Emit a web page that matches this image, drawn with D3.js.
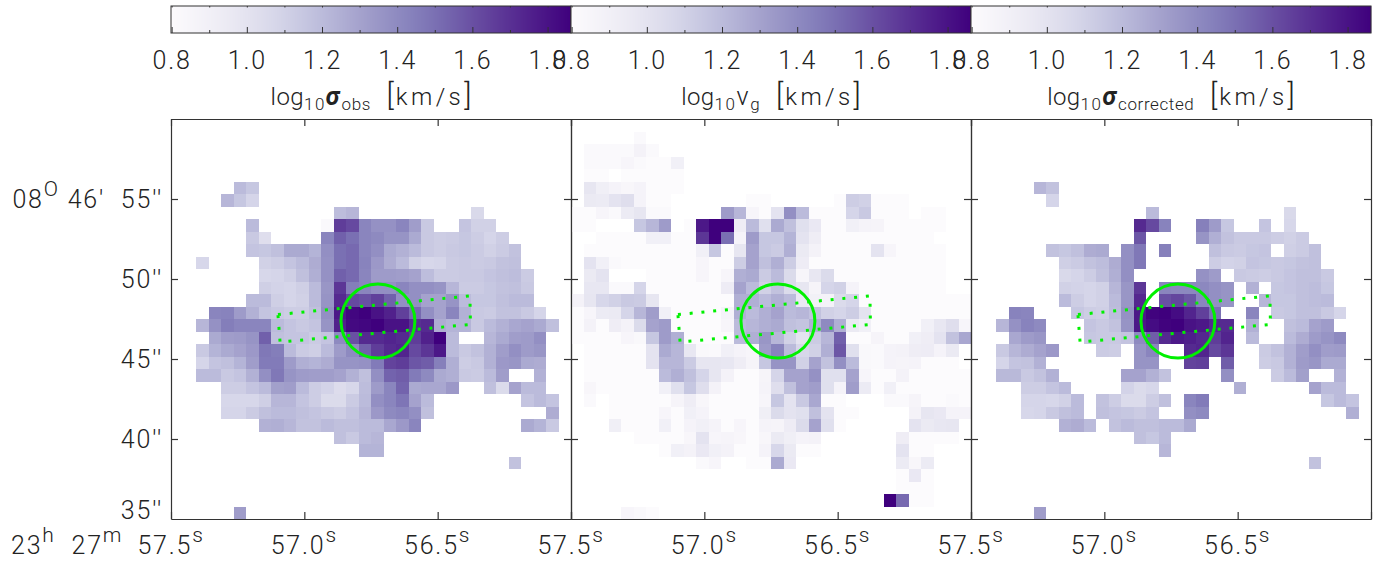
<!DOCTYPE html>
<html>
<head>
<meta charset="utf-8">
<script src="https://cdn.jsdelivr.net/npm/d3@7"></script>
<style>
html, body { margin: 0; padding: 0; background: #fff; overflow: hidden; }
text { font-family: Roboto, "Open Sans", sans-serif; font-weight: 300; fill: #222; }
</style>
</head>
<body>
<div id="drawPath"></div>
<script>
const _ = null;

// log10 sigma_obs, one row per declination step, top row first
const obsGrid = [
  [], [], [], [], [],
  [_,_,_,_,_,1.2,1.15],
  [_,_,_,_,1.22,1.15,1.08],
  [_,_,_,_,_,_,_,_,_,_,_,_,_,1.19,1.22,_,_,_,_,_,_,_,_,_,1.06],
  [_,_,_,_,_,_,1.2,_,_,_,_,_,.82,1.66,1.62,1.42,1.37,1.37,1.42,1.32,1.14,_,_,1.16,1.1,1.1],
  [_,_,_,_,_,_,1.14,1.03,_,_,_,_,1.42,1.55,1.5,1.42,1.4,1.36,1.36,1.27,1.14,1.12,1.13,1.15,1.12,1.08,1.12],
  [_,_,_,_,_,_,1.16,1.15,1.18,1.27,1.27,1.23,1.38,1.5,1.52,1.42,1.38,1.27,1.24,1.2,1.14,1.12,1.14,1.15,1.13,1.1,1.13,1.17],
  [_,_,1.07,_,_,_,_,1.1,1.12,1.16,1.2,1.26,1.37,1.5,1.52,1.43,1.34,1.26,1.2,1.1,1.07,1.08,1.13,1.14,1.13,1.14,1.17,1.18],
  [_,_,_,_,_,_,_,1.07,1.08,1.11,1.18,1.25,1.37,1.55,1.52,1.42,1.33,1.33,1.32,1.3,1.19,1.13,1.13,1.14,1.14,1.16,1.18,1.19,1.13],
  [_,_,_,_,_,_,_,1.11,1.09,1.08,1.11,1.2,1.35,1.68,1.45,1.42,1.38,1.38,1.42,1.38,1.38,1.36,1.22,1.13,1.13,1.15,1.17,1.18,1.14],
  [_,_,_,_,_,_,1.2,1.2,1.11,1.08,1.1,1.2,1.36,1.72,1.62,1.6,1.65,1.55,1.38,1.38,1.3,1.3,1.36,1.2,1.15,1.15,1.18,1.2,1.2],
  [_,_,_,1.42,1.43,1.33,1.24,1.16,1.14,1.12,1.12,1.18,1.38,1.78,1.84,1.86,1.8,1.75,1.65,1.52,1.38,1.3,1.42,1.24,1.14,1.13,1.17,1.17,1.14,1.08],
  [_,_,1.22,1.37,1.45,1.42,1.42,1.42,1.2,1.16,1.14,1.16,1.36,1.75,1.83,1.84,1.86,1.8,1.8,1.7,1.72,1.26,1.23,1.23,1.14,1.2,1.24,1.28,1.3,1.27,1.18],
  [_,_,_,1.27,1.32,1.33,1.36,1.55,1.18,1.16,1.16,1.13,1.16,1.4,1.6,1.72,1.72,1.74,1.72,1.66,1.75,1.86,1.2,_,_,1.22,1.27,1.32,1.33,1.38],
  [_,_,1.14,1.23,1.27,1.3,1.34,1.47,1.45,1.2,1.13,1.11,1.2,1.33,1.4,1.55,1.66,1.72,1.74,1.62,1.68,1.78,1.2,1.14,1.17,1.24,1.32,1.38,1.33,1.35],
  [_,_,1.08,1.16,1.18,1.23,1.32,1.46,1.46,1.33,1.25,1.23,1.26,1.36,1.36,1.37,1.46,1.64,1.66,1.58,1.56,1.44,1.25,1.12,1.14,1.24,1.34,1.35,1.27,1.26],
  [_,_,1.2,1.2,1.14,1.16,1.24,1.38,1.47,1.36,1.33,1.32,1.32,1.3,1.24,1.18,1.38,1.54,1.56,1.46,1.4,1.27,1.25,1.14,1.13,1.2,1.32,_,_,1.24],
  [_,_,_,_,1.12,1.12,1.16,1.2,1.31,1.32,1.2,1.12,1.09,1.04,1.07,1.19,1.33,1.42,1.54,1.27,1.28,1.28,1.34,_,_,1.18,1.05,1.3,1.2,1.2],
  [_,_,_,_,1.07,1.07,1.07,1.11,1.22,1.22,1.16,1.12,1.05,1.05,1.13,1.2,1.38,1.42,1.48,1.3,1.2,_,_,_,_,_,_,_,1.16,1.2,1.16],
  [_,_,_,_,1.08,1.08,1.13,1.18,1.2,1.2,1.18,1.16,1.14,1.12,1.16,1.22,1.34,1.4,1.42,1.38,1.18,_,_,_,_,_,_,_,_,_,1.26],
  [_,_,_,_,_,_,_,1.24,1.25,1.22,1.17,1.17,1.2,1.18,1.18,1.2,1.2,1.28,1.34,1.42,_,_,_,_,_,_,_,_,1.27,1.23,1.14],
  [_,_,_,_,_,_,_,_,_,_,_,_,_,1.18,1.14,1.2,1.22],
  [_,_,_,_,_,_,_,_,_,_,_,_,_,_,_,1.23,1.23],
  [_,_,_,_,_,_,_,_,_,_,_,_,_,_,_,_,_,_,_,_,_,_,_,_,_,_,_,1.17],
  [], [], [],
  [_,_,_,_,_,1.32]
];

// log10 v_g
const vgGrid = [
  [],
  [_,_,_,_,_,.82],
  [_,.82,.82,.82,.82,.88,.82],
  [_,.82,.82,.82,.85,.82,.8,.8,.9],
  [_,.8,.8,_,.8,.8,.8,.8,.8],
  [_,.98,.91,.87,.84,.87,.8,.8,.8],
  [_,.95,.94,1.0,1.03,.87,.8,.8,_,_,_,_,_,_,.8,.8,_,_,_,_,_,.8,1.12,1.1,.8,.8,.8],
  [.8,.8,.85,.82,.94,.98,.82,.82,_,_,_,_,1.33,1.22,.85,.8,1.0,1.38,1.2,.8,.8,.8,1.08,1.14,.8,.8,.8,_,.8,.8],
  [.8,.8,_,_,_,1.15,1.22,1.33,_,.8,1.78,1.86,1.86,.92,1.2,1.02,1.27,1.18,1.02,.96,.8,.8,.9,.87,.86,.8,.8,.8,.8,.8],
  [_,_,.8,.8,.8,.8,.9,.9,.8,.8,1.68,1.86,1.5,.87,1.33,1.15,1.15,1.23,1.0,.92,.8,.8,.8,.8,.8,.8,.8,.8,.8],
  [_,.8,.8,.8,.8,.8,.8,.8,.8,.8,.9,1.15,.8,.98,1.3,1.15,1.13,1.25,.95,.88,.8,.8,.8,.8,1.0,.85,.8,.8,.8,.8],
  [_,1.0,.9,.82,.8,.8,.8,.8,.8,.8,.85,.8,.8,1.12,1.3,1.18,1.25,1.12,.93,.8,.8,.8,.8,.8,.8,.8,.8,.8,.8,.8],
  [_,.95,1.0,_,_,_,.8,.8,.8,.8,.85,.8,.85,1.25,1.27,1.13,1.2,1.05,.85,.97,1.05,.8,.8,.8,.8,.8,.8,.8,.8,.8],
  [_,.97,.97,.82,.82,1.08,.8,.8,.8,.8,.8,.8,.93,1.3,1.2,1.1,1.17,1.05,.98,.86,1.08,1.1,.87,.8,.8,.8,.8,.8,.8,.8],
  [.88,.98,1.07,1.1,1.14,1.13,.98,.8,.8,.8,.8,.8,.8,1.25,1.25,1.2,1.25,1.2,.96,.89,.88,1.05,1.08,.8,.8,.8,.8,.8,.8,.8,.8,.8],
  [.8,.85,.94,.95,1.08,1.22,1.32,.9,.8,.8,.8,.8,.87,1.25,1.2,1.25,1.3,1.2,1.22,1.17,1.1,1.08,1.12,1.0,.8,.8,.8,.8,.8,.8,.8,.8],
  [.8,.88,.8,.92,.88,1.05,1.3,1.33,.8,.8,.8,.8,.85,1.2,1.22,1.25,1.27,1.18,1.16,1.25,1.4,1.25,.95,.9,.8,.8,.8,.8,.9,.97,1.03,.85],
  [.8,.8,.8,.8,.85,.83,1.15,1.33,1.25,.8,.8,.8,.8,1.2,1.25,1.35,1.22,1.1,1.0,1.13,1.22,1.55,.8,.8,.86,.8,.8,.9,.92,1.0,1.17,1.28],
  [_,.8,.8,.8,.8,.8,1.0,1.27,1.22,.97,.83,.82,.9,.87,.85,1.33,1.43,1.2,1.07,1.1,1.25,1.58,1.02,.83,.82,.87,.88,.92,.93,.87,.95],
  [_,.8,.8,.8,.8,.8,1.0,1.22,1.22,1.13,.98,.98,.97,.92,.86,1.15,1.36,1.36,1.1,1.3,1.17,1.38,1.2,.83,.82,.87,.86,.87,.8,.8,.8],
  [_,.8,.8,.8,.8,.8,.8,1.2,1.25,1.18,1.08,.98,.88,.8,.8,.86,1.08,1.3,1.3,1.37,1.02,1.02,1.3,.85,.8,.8,.88,.8,.8,.8,.8,.8],
  [_,.84,.8,.8,.8,.8,.8,.9,1.02,1.15,1.03,.88,.8,.8,.8,.87,1.03,1.18,1.3,1.32,1.02,.87,1.32,.94,.8,.9,.8,.8,.8,.8,.8,.8],
  [_,.82,_,.8,.8,.8,.8,.8,.86,.92,.84,.8,.8,.8,.8,.85,1.15,1.0,1.14,1.28,.8,.8,_,_,_,.82,.82,.86,.8,.8,.82,.8],
  [_,_,_,.8,.8,.8,.8,.85,.8,.9,.87,.8,.8,.8,.8,.91,1.05,1.0,1.02,1.18,1.0,.8,.8,_,_,_,_,.88,.98,.96,.87,.87],
  [_,_,_,.91,.8,.8,.8,.9,.8,.87,.9,.87,.8,.85,.8,.87,.86,.93,1.05,1.3,1.02,.8,_,_,_,_,_,1.0,.95,.97,.98],
  [_,_,_,_,_,.8,.8,.8,.8,.84,1.0,.85,.86,.84,.8,.84,.95,.91,.87,.88,_,_,_,_,_,_,.92,.8,.8,.8,.8],
  [_,_,_,_,_,_,_,.8,.9,.88,.96,.9,.88,.8,.8,.87,1.07,.95,.8,.8,_,_,_,_,_,_,1.0,.8,.8],
  [_,_,_,_,_,_,_,_,_,_,.82,.85,_,_,.8,.8,1.27,.96,_,_,_,_,_,_,_,_,.94,.84,.94],
  [_,_,_,_,_,_,_,_,_,_,_,_,_,_,_,_,_,_,_,_,_,_,_,_,_,_,.8,.96,.8],
  [_,_,_,_,_,_,_,_,_,_,_,_,_,_,_,_,_,_,_,_,_,_,_,_,_,_,.8,.8,.8],
  [_,_,_,_,_,_,_,_,_,_,_,_,_,_,_,_,_,_,_,_,_,_,_,_,_,1.86,1.52,.8,.8],
  [_,_,_,_,.85,.83,.8]
];

// log10 sigma_corrected
const corrGrid = [
  [], [], [], [], [],
  [_,_,_,_,_,1.22,1.17],
  [_,_,_,_,_,_,1.08],
  [_,_,_,_,_,_,_,_,_,_,_,_,_,_,1.2,_,_,_,_,_,_,_,_,_,_,1.06],
  [_,_,_,_,_,_,_,_,_,_,_,_,_,1.72,1.62,1.43,_,_,1.44,1.33,1.15,_,_,1.16,_,1.07],
  [_,_,_,_,_,_,_,_,_,_,_,_,_,1.58,_,_,_,_,1.36,1.25,1.17,1.14,1.14,1.14,1.12,1.1,1.13],
  [_,_,_,_,_,_,1.17,1.15,1.18,1.26,1.27,_,1.38,1.47,_,1.44,_,_,_,1.18,1.14,1.13,1.15,1.16,_,1.11,1.13,1.18],
  [_,_,_,_,_,_,_,1.11,1.13,1.17,1.19,1.26,1.38,1.47,_,_,_,_,_,1.12,1.09,1.1,1.16,1.15,1.14,1.15,1.17,1.18],
  [_,_,_,_,_,_,_,1.06,1.08,1.12,1.18,1.25,1.38,_,_,_,_,_,1.37,1.33,_,1.14,1.13,1.12,1.14,1.16,1.18,1.18,1.14],
  [_,_,_,_,_,_,_,1.1,1.09,1.08,1.1,1.22,1.35,1.68,_,1.42,1.41,1.41,1.41,1.38,1.36,_,1.24,_,1.15,1.16,1.18,1.19,1.15],
  [_,_,_,_,_,_,_,1.2,1.12,1.08,1.1,1.2,1.35,1.73,_,1.6,1.63,1.58,1.42,1.38,1.36,_,_,1.22,1.15,1.15,1.18,1.19,1.2],
  [_,_,_,1.43,1.42,_,_,_,1.15,1.12,1.11,1.19,1.37,1.78,1.85,1.86,1.82,1.74,1.65,1.5,_,_,1.42,_,1.14,1.15,1.18,1.18,1.14,1.08],
  [_,_,1.22,1.37,1.43,1.4,_,_,_,1.16,1.14,1.17,1.36,1.78,1.82,1.85,1.86,1.8,1.78,1.72,1.72,_,1.24,_,_,1.18,1.2,1.3,1.33],
  [_,_,_,1.28,1.33,1.35,_,_,_,1.15,1.14,1.14,1.16,1.4,1.56,1.72,1.78,1.76,1.73,1.66,1.74,_,1.2,_,_,1.2,1.26,1.33,1.36,1.4],
  [_,_,1.14,1.22,1.26,1.3,1.34,_,_,_,1.13,1.12,_,1.36,1.42,_,_,1.72,1.74,1.62,1.68,_,_,1.13,1.17,1.24,1.32,1.38,1.32,1.33],
  [_,_,1.08,1.16,1.17,1.24,_,_,_,_,_,_,_,1.36,1.36,_,_,1.64,1.65,_,1.56,_,_,1.12,1.14,1.24,1.33,1.35,1.27,1.27],
  [_,_,1.21,1.21,1.14,1.17,1.24,_,_,_,_,_,1.3,1.3,1.24,1.17,_,_,_,_,1.38,_,_,_,1.13,1.2,1.31,_,_,1.24],
  [_,_,_,_,1.12,1.12,1.16,1.2,_,_,_,_,1.09,1.05,1.07,_,_,_,_,_,_,1.25,_,_,_,_,_,1.3,1.2,1.2],
  [_,_,_,_,1.08,1.08,1.07,1.1,1.2,_,1.17,1.12,1.05,1.05,1.12,1.18,_,1.42,1.46,_,_,_,_,_,_,_,_,_,1.15,1.2,1.16],
  [_,_,_,_,1.07,1.08,1.14,1.18,1.2,_,1.18,1.16,1.15,1.13,1.16,_,_,1.38,1.4,_,_,_,_,_,_,_,_,_,_,_,1.25],
  [_,_,_,_,_,_,_,1.24,1.26,1.2,_,1.17,1.2,1.18,1.18,1.2,1.2,1.27],
  [_,_,_,_,_,_,_,_,_,_,_,_,_,1.18,1.15,1.2],
  [_,_,_,_,_,_,_,_,_,_,_,_,_,_,_,1.22],
  [_,_,_,_,_,_,_,_,_,_,_,_,_,_,_,_,_,_,_,_,_,_,_,_,_,_,_,1.17],
  [], [], [],
  [_,_,_,_,_,1.32]
];

const panelGrids = [obsGrid, vgGrid, corrGrid];
const titleNames = [
  [['\u03c3', 2], ['obs', 1]],
  [['v', 0], ['g', 1]],
  [['\u03c3', 2], ['corrected', 1]]
];

const colorTicks = [0.8, 0.9, 1.0, 1.1, 1.2, 1.3, 1.4, 1.5, 1.6, 1.7, 1.8];
const colorLabels = [0.8, 1.0, 1.2, 1.4, 1.6, 1.8];
const colorDomain = [0.797, 1.861];

const raDomain = [57.5, 56.0];
const decDomain = [60, 35];
const raTicks = [57.5, 57.0, 56.5, 56.0];
const raLabels = [57.5, 57.0, 56.5];
const decTicks = [55, 50, 45, 40];

// aperture and slit on the sky (seconds of RA, arcsec of Dec)
const circleCenter = [56.724, 47.37];
const circleRadius = 2.31;
const slitRa = [57.099, 56.379, 56.377, 57.091];
const slitDec = [47.78, 48.94, 47.16, 46.06];

// setting param
const width = 1395;
const height = 565;
const panelSize = 400;
const panelLeft = 171;
const panelTop = 119;
const barTop = 6;
const barHeight = 27;
const green = '#00f000';

const svg = d3.select('#drawPath').append('svg')
  .attr('width', width)
  .attr('height', height);

const color = d3.scaleSequential(d3.interpolatePurples).domain(colorDomain);
const x = d3.scaleLinear().domain(raDomain).range([0, panelSize]);
const y = d3.scaleLinear().domain(decDomain).range([0, panelSize]);
const cols = d3.scaleBand().domain(d3.range(32)).range([0, panelSize]);
const rows = d3.scaleBand().domain(d3.range(32)).range([0, panelSize]);

const styleAxis = g => {
  g.select('.domain').attr('stroke', '#333').attr('stroke-width', 1.2);
  g.selectAll('.tick line').attr('stroke', '#333').attr('stroke-width', 1.2);
  g.selectAll('.tick text').remove();
};

// mixed text: style 0 plain, 1 subscript, 2 bold italic greek, 3 superscript
// optional third and fourth entries override letter spacing and size
const shiftOf = s => s === 1 ? 5 : s === 3 ? -12 : 0;
const richText = (sel, parts) => {
  const t = sel.append('text');
  parts.forEach((p, i) => {
    const prev = i > 0 ? shiftOf(parts[i - 1][1]) : 0;
    const base = p[1] === 1 ? 17 : p[1] === 3 ? 21 : 25;
    t.append('tspan')
      .attr('dy', shiftOf(p[1]) - prev)
      .attr('font-size', p[3] || base)
      .attr('font-weight', p[1] === 2 ? 700 : null)
      .attr('font-style', p[1] === 2 ? 'italic' : null)
      .attr('letter-spacing', p[2] !== undefined ? p[2] : (p[1] === 1 ? 0.6 : 1.8))
      .style('white-space', 'pre')
      .text(p[0]);
  });
  return t;
};

panelGrids.forEach((grid, p) => {
  const ox = panelLeft + p * panelSize;

  // colour bar
  const bar = svg.append('g').attr('transform', `translate(${ox},${barTop})`);
  const barX = d3.scaleLinear().domain(colorDomain).range([0, panelSize]);
  bar.selectAll('rect')
    .data(d3.range(panelSize))
    .enter()
    .append('rect')
    .attr('x', d => d)
    .attr('width', 1.2)
    .attr('height', barHeight)
    .attr('fill', d => color(barX.invert(d + 0.5)));
  bar.append('rect')
    .attr('width', panelSize)
    .attr('height', barHeight)
    .attr('fill', 'none')
    .attr('stroke', '#333')
    .attr('stroke-width', 1);
  bar.selectAll('.bartick')
    .data(colorTicks)
    .enter()
    .append('line')
    .attr('class', 'bartick')
    .attr('x1', d => barX(d))
    .attr('x2', d => barX(d))
    .attr('y1', barHeight)
    .attr('y2', (d, i) => barHeight - (i % 2 ? 3 : 6))
    .attr('stroke', '#333');
  bar.selectAll('.toptick')
    .data(colorTicks)
    .enter()
    .append('line')
    .attr('class', 'toptick')
    .attr('x1', d => barX(d))
    .attr('x2', d => barX(d))
    .attr('y1', 0)
    .attr('y2', 1.5)
    .attr('stroke', '#333');
  bar.selectAll('.barlabel')
    .data(colorLabels)
    .enter()
    .append('text')
    .attr('class', 'barlabel')
    .attr('x', d => barX(d))
    .attr('y', 63)
    .attr('text-anchor', 'middle')
    .attr('font-size', 25)
    .attr('letter-spacing', 1.8)
    .text(d => d.toFixed(1));

  // title under the bar
  const title = [['log', 0, 0.4, 24], ['10', 1, 1.5]]
    .concat(titleNames[p])
    .concat([['  ', 0, 2, 24], ['[', 0, 2, 30], ['km/s', 0, 3.4, 24], [']', 0, 0, 30]]);
  richText(svg.append('g'), title)
    .attr('x', ox + panelSize / 2)
    .attr('y', 105)
    .attr('text-anchor', 'middle');

  // map
  const g = svg.append('g').attr('transform', `translate(${ox},${panelTop})`);
  const cells = [];
  grid.forEach((row, r) => row.forEach((v, c) => { if (v !== null) cells.push({r, c, v}); }));
  g.selectAll('.cell')
    .data(cells)
    .enter()
    .append('rect')
    .attr('class', 'cell')
    .attr('x', d => cols(d.c))
    .attr('y', d => rows(d.r))
    .attr('width', cols.bandwidth())
    .attr('height', rows.bandwidth())
    .attr('shape-rendering', 'crispEdges')
    .attr('fill', d => color(d.v));

  // green aperture and slit
  g.append('circle')
    .attr('cx', x(circleCenter[0]))
    .attr('cy', y(circleCenter[1]))
    .attr('r', y(decDomain[0] - circleRadius))
    .attr('fill', 'none')
    .attr('stroke', green)
    .attr('stroke-width', 3);
  const slitLine = d3.line().x(d => x(d[0])).y(d => y(d[1])).curve(d3.curveLinearClosed);
  g.append('path')
    .attr('d', slitLine(d3.zip(slitRa, slitDec)))
    .attr('fill', 'none')
    .attr('stroke', green)
    .attr('stroke-width', 3)
    .attr('stroke-dasharray', '3,8.8');

  // frame and ticks
  g.append('g').attr('transform', `translate(0,${panelSize})`)
    .call(d3.axisBottom(x).tickValues(raTicks).tickSize(-7).tickSizeOuter(0)).call(styleAxis);
  g.append('g')
    .call(d3.axisTop(x).tickValues(raTicks).tickSize(-7).tickSizeOuter(0)).call(styleAxis);
  g.append('g')
    .call(d3.axisLeft(y).tickValues(decTicks).tickSize(-7).tickSizeOuter(0)).call(styleAxis);
  g.append('g').attr('transform', `translate(${panelSize},0)`)
    .call(d3.axisRight(y).tickValues(decTicks).tickSize(-7).tickSizeOuter(0)).call(styleAxis);

  // RA labels
  raLabels.forEach(ra => {
    richText(svg.append('g'), [[ra.toFixed(1), 0], ['s', 3]])
      .attr('x', ox + x(ra))
      .attr('y', 554)
      .attr('text-anchor', 'middle');
  });
});

// Dec labels, the lowest one sits just above its tick
decTicks.concat([35]).forEach(dec => {
  const parts = dec === 55
    ? [['08', 0], ['O', 3], [' 46\'  ', 0], [dec + "''", 0]]
    : [[dec + "''", 0]];
  richText(svg.append('g'), parts)
    .attr('x', 163)
    .attr('y', panelTop + y(dec) + (dec === 35 ? 0 : 9))
    .attr('text-anchor', 'end');
});

// RA prefix
richText(svg.append('g'), [['23', 0], ['h', 3], ['  27', 0], ['m', 3]])
  .attr('x', 11)
  .attr('y', 554);
</script>
</body>
</html>
